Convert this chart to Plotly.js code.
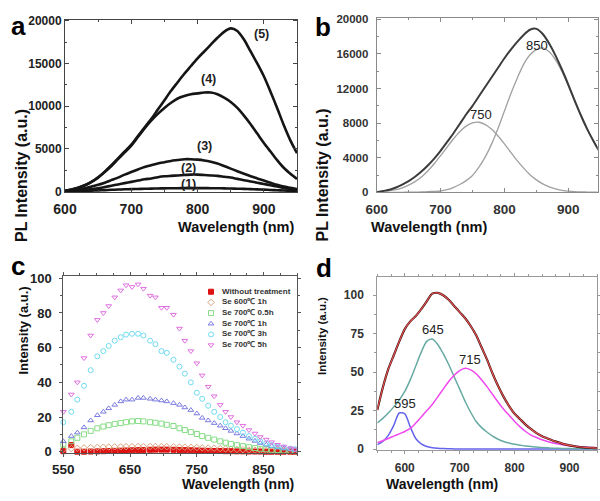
<!DOCTYPE html>
<html>
<head>
<meta charset="utf-8">
<script src="https://cdn.plot.ly/plotly-3.0.1.min.js"></script>
<style>
html, body { margin: 0; padding: 0; background: #fff; }
#chart { width: 600px; height: 501px; }
</style>
</head>
<body>
<div id="chart"></div>
<script>
// panel a - PL spectra (1)-(5)
var wlA = [600,610,620,630,640,650,660,670,680,690,700,710,720,730,740,750,760,770,780,790,800,810,820,830,840,850,860,870,880,890,900,910,920,930,940,950];
var pl5 = [100,250,450,750,1150,1700,2350,3100,3900,4700,5500,6500,7500,8500,9600,10700,11800,12800,13800,14700,15600,16400,17200,18000,18700,19100,18800,17800,16400,15000,13500,11700,9800,7800,6000,4500];
var pl4 = [100,250,450,750,1150,1650,2300,3000,3800,4600,5400,6400,7400,8300,9100,9800,10400,10900,11200,11400,11500,11600,11600,11400,11000,10500,9800,8900,7900,6800,5700,4700,3700,2800,2100,1500];
var pl3 = [100,150,250,400,600,800,1050,1350,1650,2000,2300,2600,2900,3100,3300,3450,3600,3700,3800,3800,3750,3650,3500,3300,3000,2700,2400,2100,1800,1550,1300,1050,800,600,450,300];
var pl2 = [50,80,130,200,300,400,550,700,850,1000,1150,1300,1450,1550,1700,1800,1850,1900,1950,2000,2000,1950,1900,1850,1750,1650,1500,1350,1200,1050,900,750,600,450,300,200];
var pl1 = [30,50,70,100,130,160,190,220,250,280,300,320,340,360,380,390,400,410,420,420,420,415,410,400,390,370,350,330,300,270,240,200,170,140,110,80];
var curveLabels = ['(1)', '(2)', '(3)', '(4)', '(5)'];
var curveLabelX = [787, 786, 810, 816, 897];
var curveLabelY = [950, 2750, 5340, 13140, 18400];

// panel b - fit of spectrum (5)
var plTotal = [0,150,300,550,900,1300,1800,2400,3100,3900,4800,5800,6800,7900,9000,10000,11100,12200,13300,14400,15500,16500,17400,18200,18800,18900,18300,17200,15800,14200,12450,10600,8850,7250,5850,4550];
var fit750 = [60,110,190,320,520,820,1230,1780,2470,3300,4230,5210,6160,7000,7650,8020,8100,7830,7290,6510,5600,4620,3660,2790,2040,1440,970,630,390,235,135,80,45,25,12,6];
var fit850 = [0,0,0,0,0,10,20,40,70,110,150,300,550,900,1350,1950,2900,4100,5600,7400,9400,11400,13200,14800,15900,16500,16700,16240,15300,13960,12300,10500,8800,7200,5800,4500];
var peakLabelsB = ['750', '850'];
var peakLabelBX = [764, 851];
var peakLabelBY = [8950, 17000];

// panel c - Se treatment series
var wlC = [550,562,571,581,591,601,610,618,627,636,644,653,662,670,680,688,697,705,715,724,732,741,750,758,767,776,785,793,801,810,819,828,837,845,854,862,871,880,890,897];
var noTreat = [0.3,3.8,0,0,0.1,0.2,0.3,0.4,0.5,0.6,0.7,0.8,0.9,1,1.1,1.2,1.2,1.2,1.1,1,0.9,0.8,0.7,0.6,0.5,0.4,0.4,0.3,0.3,0.2,0.2,0.1,0.1,0.1,0,0,0,0,0,0];
var se600 = [1.5,1.8,2,2.2,2.4,2.5,2.6,2.7,2.8,2.8,2.9,2.9,3,3,3,3,2.9,2.9,2.8,2.7,2.6,2.5,2.4,2.2,2.1,2,1.8,1.6,1.5,1.3,1.2,1,0.9,0.8,0.7,0.6,0.5,0.4,0.3,0.3];
var se05h = [4,6,8,10,12,13.5,14.5,15.3,16,16.5,17,17.5,17.7,17.5,17,16.7,16.2,15.5,14.8,13.5,12.5,11.3,10.2,9,8,7,6,5.2,4.5,3.8,3.2,2.6,2.1,1.7,1.4,1.1,0.9,0.7,0.5,0.4];
var se1h = [6,9,11,14,18,21,23,25,27,29,30,30,31,31,30.5,30,29.5,29,28,27,25.5,24,22,19.5,18,16.5,15,13.5,12,10.5,9,7.5,6.2,5,4,3.2,2.5,1.9,1.4,1.1];
var se3h = [17,23,30,38,47,55,58,61,64,66,67.5,68,68,67,64,62,58,57,53,49,45,40,34,30.5,26.5,23,20,17,15,13,11,9,7.5,6,4.8,3.8,3,2.4,1.8,1.4];
var se5h = [23,33,40,54,67,76,80,84,89,93,96,95,96.5,94,90,89,83,83,79,71,64,58,51,44,37.5,32,27,23,20,17,15,12.5,10.5,8.5,7,5.5,4,3,2,1.3];
var seNames = ['Without treatment', 'Se 600\u2103 1h', 'Se 700\u2103 0.5h', 'Se 700\u2103 1h', 'Se 700\u2103 3h', 'Se 700\u2103 5h'];
var seSymbols = ['square', 'diamond-open', 'square-open', 'triangle-up-open', 'circle-open', 'triangle-down-open'];
var seColors = ['#dd1111', '#d8a47c', '#88dd88', '#7a7ae0', '#70dcef', '#e070e0'];

// panel d - deconvolution
var wlD = [550,560,570,580,590,600,610,620,630,640,650,660,670,680,690,700,710,720,730,740,750,760,770,780,790,800,810,820,830,840,850,860,870,880,890,900,910,920,930,940,950];
var dMeas = [25.5,40,52,61,70,78,83,86.5,91,96,101,101.5,100,97,93,89,85,80,74,66,58,49,41,34,28,23,19.5,16,13,10.5,8.5,7,5.5,4.5,3.3,2.5,1.9,1.4,1.1,0.9,0.7];
var d595 = [3,5,9,15.5,23.5,23,14.5,7,3.5,1.8,1,0.6,0.4,0.3,0.2,0.15,0.1,0.1,0.1,0.1,0.1,0.1,0.1,0.1,0.1,0.1,0.1,0.1,0.1,0.1,0.1,0.1,0.1,0.1,0.1,0.1,0.1,0.1,0.1,0.1,0.1];
var d645 = [17,20,23.5,27.5,32,37.5,45,54,63,70,71.5,68,62,55,47,39,31,24,18,14,11,8.5,6.5,5,4,3.2,2.6,2.1,1.7,1.4,1.1,0.9,0.7,0.6,0.5,0.4,0.35,0.3,0.25,0.2,0.2];
var d715 = [4.3,5.5,7,8.5,10,11.5,13.5,17,21,25,29,34,39,44,48,51,52.5,51.5,49,45,40.5,35.5,30.5,26,22,18,14.5,11.5,9.2,7.6,6.2,5,4.1,3.4,2.8,2.3,1.9,1.6,1.3,1.1,1];
var peakLabelsD = ['595', '645', '715'];
var peakLabelDX = [600, 652, 718];
var peakLabelDY = [30, 78, 58];

var FONT = 'Liberation Sans, Arial, sans-serif';

function px(x) { return x / 600; }
function py(y) { return 1 - y / 501; }

function axis(o) {
    var base = {
        showgrid: false, zeroline: false, showline: true, mirror: 'ticks',
        linewidth: 1, ticklen: 4, tickwidth: 1, fixedrange: true, tickformat: 'd'
    };
    for (var k in o) base[k] = o[k];
    return base;
}

function lineTrace(x, y, color, width, xa, ya) {
    return {
        x: x, y: y, type: 'scatter', mode: 'lines',
        line: { color: color, width: width, shape: 'spline', smoothing: 0.8 },
        xaxis: xa, yaxis: ya, showlegend: false, hoverinfo: 'skip'
    };
}

var data = [];
[pl1, pl2, pl3, pl4, pl5].forEach(function(s) {
    data.push(lineTrace(wlA, s, '#151515', 2.6, 'x', 'y'));
});

data.push(lineTrace(wlA, fit750, '#a0a0a0', 1.3, 'x2', 'y2'));
data.push(lineTrace(wlA, fit850, '#a0a0a0', 1.3, 'x2', 'y2'));
data.push(lineTrace(wlA, plTotal, '#3c3c3c', 2, 'x2', 'y2'));

[noTreat, se600, se05h, se1h, se3h, se5h].forEach(function(s, i) {
    data.push({
        x: wlC, y: s, type: 'scatter', mode: 'markers',
        marker: { symbol: seSymbols[i], color: seColors[i], size: 5, line: { color: seColors[i], width: 1 } },
        xaxis: 'x3', yaxis: 'y3', showlegend: false, hoverinfo: 'skip', cliponaxis: false
    });
});

// legend for panel c, drawn on its own small axis
data.push({
    x: seNames.map(function() { return 6; }), y: seNames.map(function(n, i) { return i; }),
    type: 'scatter', mode: 'markers',
    marker: { symbol: seSymbols, color: seColors, size: 5, line: { color: seColors, width: 1 } },
    xaxis: 'x5', yaxis: 'y5', showlegend: false, hoverinfo: 'skip'
});
data.push({
    x: seNames.map(function() { return 17; }), y: seNames.map(function(n, i) { return i; }),
    text: seNames, type: 'scatter', mode: 'text', textposition: 'middle right',
    textfont: { family: FONT, size: 8, color: '#333', weight: 'bold' },
    xaxis: 'x5', yaxis: 'y5', showlegend: false, hoverinfo: 'skip'
});

data.push(lineTrace(wlD, d595, '#6464ec', 1.5, 'x4', 'y4'));
data.push(lineTrace(wlD, d645, '#66aaa2', 1.5, 'x4', 'y4'));
data.push(lineTrace(wlD, d715, '#ee48ee', 1.5, 'x4', 'y4'));
data.push(lineTrace(wlD, dMeas, '#3a1414', 2.2, 'x4', 'y4'));
data.push(lineTrace(wlD, dMeas, '#f05050', 1.1, 'x4', 'y4'));

var annotations = [];
function label(t, x, y, size) {
    annotations.push({ text: t, x: px(x), y: py(y), xref: 'paper', yref: 'paper', showarrow: false,
        font: { family: FONT, size: size, color: '#000', weight: 'bold' } });
}
function ytitle(t, x, y, size) {
    annotations.push({ text: t, x: px(x), y: py(y), xref: 'paper', yref: 'paper', showarrow: false,
        textangle: -90, font: { family: FONT, size: size, color: '#111', weight: 'bold' } });
}
function xtitle(t, x, y, size) {
    annotations.push({ text: t, x: px(x), y: py(y), xref: 'paper', yref: 'paper', showarrow: false,
        borderpad: 0, font: { family: FONT, size: size, color: '#111', weight: 'bold' } });
}
label('a', 9, 9, 26);
label('b', 323, 10, 26);
label('c', 9, 266, 26);
label('d', 324, 268, 26);
ytitle('PL Intensity (a.u.)', 11, 107, 16);
xtitle('Wavelength (nm)', 177, 227, 14.5);
ytitle('PL Intensity (a.u.)', 322, 107, 16);
xtitle('Wavelength (nm)', 488, 227, 14.5);
ytitle('Intensity (a.u.)', 13, 377, 13);
xtitle('Wavelength (nm)', 181, 493, 14);
ytitle('Intensity (a.u.)', 322, 377, 11.5);
xtitle('Wavelength (nm)', 499, 493, 14);

curveLabels.forEach(function(t, i) {
    annotations.push({ text: t, x: curveLabelX[i], y: curveLabelY[i], xref: 'x', yref: 'y', showarrow: false,
        borderpad: 0, font: { family: FONT, size: 12.5, color: '#222', weight: 'bold' } });
});
peakLabelsB.forEach(function(t, i) {
    annotations.push({ text: t, x: peakLabelBX[i], y: peakLabelBY[i], xref: 'x2', yref: 'y2', showarrow: false,
        font: { family: FONT, size: 13, color: '#222' } });
});
peakLabelsD.forEach(function(t, i) {
    annotations.push({ text: t, x: peakLabelDX[i], y: peakLabelDY[i], xref: 'x4', yref: 'y4', showarrow: false,
        font: { family: FONT, size: 13, color: '#222' } });
});

var layout = {
    width: 600, height: 501,
    margin: { l: 0, r: 0, t: 0, b: 0, pad: 0 },
    paper_bgcolor: '#fff', plot_bgcolor: '#fff',
    showlegend: false,
    annotations: annotations,
    xaxis: axis({
        domain: [px(65), px(297)], range: [600, 950], anchor: 'y',
        tick0: 600, dtick: 100, ticks: 'inside', linecolor: '#444', tickcolor: '#444',
        minor: { tick0: 600, dtick: 50, ticks: 'inside', ticklen: 2, tickcolor: '#444' },
        tickfont: { family: FONT, size: 14, color: '#222', weight: 'bold' }, ticklabelstandoff: 4
    }),
    yaxis: axis({
        domain: [py(192.3), py(19.5)], range: [-70, 20140], anchor: 'x',
        tick0: 0, dtick: 5000, ticks: 'inside', linecolor: '#444', tickcolor: '#444',
        minor: { tick0: 0, dtick: 2500, ticks: 'inside', ticklen: 2, tickcolor: '#444' },
        tickfont: { family: FONT, size: 12, color: '#222', weight: 'bold' }
    }),
    xaxis2: axis({
        domain: [px(376.7), px(597.7)], range: [600, 946], anchor: 'y2',
        tick0: 600, dtick: 100, ticks: 'inside', linecolor: '#8a8a8a', tickcolor: '#8a8a8a',
        minor: { tick0: 600, dtick: 50, ticks: 'inside', ticklen: 2, tickcolor: '#8a8a8a' },
        tickfont: { family: FONT, size: 13.5, color: '#333', weight: 'bold' }, ticklabelstandoff: 4
    }),
    yaxis2: axis({
        domain: [py(192.3), py(18.3)], range: [0, 20120], anchor: 'x2',
        tick0: 0, dtick: 4000, ticks: 'inside', linecolor: '#8a8a8a', tickcolor: '#8a8a8a',
        minor: { tick0: 0, dtick: 2000, ticks: 'inside', ticklen: 2, tickcolor: '#8a8a8a' },
        tickfont: { family: FONT, size: 11.5, color: '#333', weight: 'bold' }, ticklabelstandoff: 5
    }),
    xaxis3: axis({
        domain: [px(63.3), px(297)], range: [550, 900], anchor: 'y3',
        tick0: 550, dtick: 100, ticks: 'outside', ticklen: 3, linecolor: '#555', tickcolor: '#555',
        minor: { tick0: 550, dtick: 25, ticks: 'outside', ticklen: 2, tickcolor: '#555' },
        tickfont: { family: FONT, size: 13.5, color: '#222', weight: 'bold' }, ticklabelstandoff: 1
    }),
    yaxis3: axis({
        domain: [py(453), py(276)], range: [-0.75, 101.3], anchor: 'x3',
        tick0: 0, dtick: 20, ticks: 'outside', ticklen: 3, linecolor: '#555', tickcolor: '#555',
        minor: { tick0: 0, dtick: 10, ticks: 'outside', ticklen: 2, tickcolor: '#555' },
        tickfont: { family: FONT, size: 13, color: '#222', weight: 'bold' }, ticklabelstandoff: 5
    }),
    xaxis4: axis({
        domain: [px(377.3), px(597)], range: [550, 950], anchor: 'y4',
        tick0: 0, dtick: 100, ticks: 'outside', ticklen: 3, linecolor: '#999', tickcolor: '#999',
        minor: { tick0: 0, dtick: 25, ticks: 'outside', ticklen: 2, tickcolor: '#999' },
        tickfont: { family: FONT, size: 12, color: '#333', weight: 'bold' }, ticklabelstandoff: 4
    }),
    yaxis4: axis({
        domain: [py(450), py(276.7)], range: [-0.5, 112], anchor: 'x4',
        tick0: 0, dtick: 25, ticks: 'outside', ticklen: 3, linecolor: '#999', tickcolor: '#999',
        minor: { tick0: 0, dtick: 12.5, ticks: 'outside', ticklen: 2, tickcolor: '#999' },
        tickfont: { family: FONT, size: 12, color: '#333', weight: 'bold' }, ticklabelstandoff: 7
    }),
    xaxis5: { domain: [px(205), px(297)], range: [0, 92], anchor: 'y5', visible: false, fixedrange: true },
    yaxis5: { domain: [py(350.4), py(286.4)], range: [5.5, -0.5], anchor: 'x5', visible: false, fixedrange: true }
};

Plotly.newPlot('chart', data, layout, { staticPlot: true });
</script>
</body>
</html>
